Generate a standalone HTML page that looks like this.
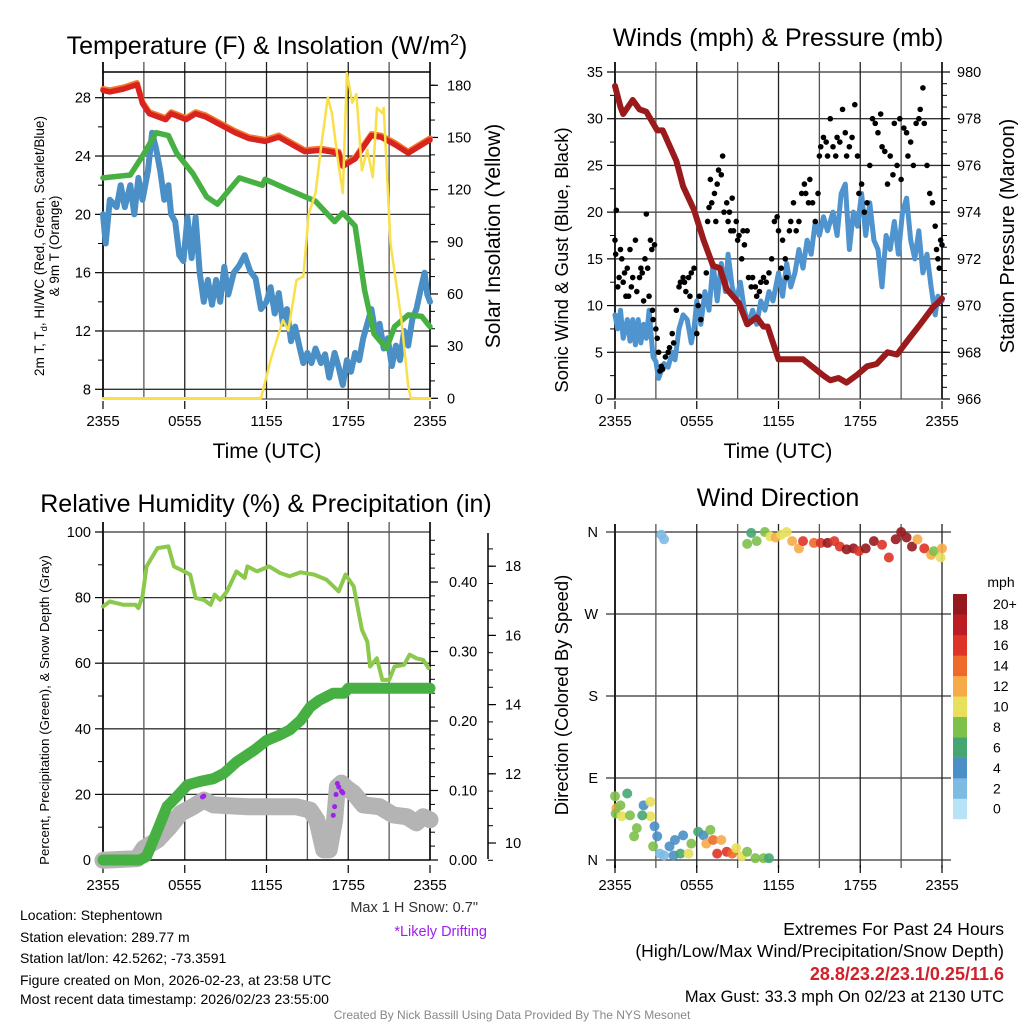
<!DOCTYPE html>
<html><head><meta charset="utf-8"><style>
html,body{margin:0;padding:0;background:#fff;}
svg{display:block;font-family:"Liberation Sans",Arial,sans-serif;}
</style></head><body>
<svg id="fig" width="1024" height="1024" viewBox="0 0 1024 1024">
<rect width="1024" height="1024" fill="#fff"/>
<g id="p1"></g>
<g id="p2"></g>
<g id="p3"></g>
<g id="p4"></g>

<text x="267" y="54" font-size="25" text-anchor="middle">Temperature (F) &amp; Insolation (W/m<tspan dy="-9" font-size="16">2</tspan><tspan dy="9">)</tspan></text>
<text x="778" y="46" font-size="25" text-anchor="middle">Winds (mph) &amp; Pressure (mb)</text>
<text x="266" y="512" font-size="25" text-anchor="middle">Relative Humidity (%) &amp; Precipitation (in)</text>
<text x="778" y="506" font-size="25" text-anchor="middle">Wind Direction</text>

<text x="267" y="458" font-size="21" text-anchor="middle">Time (UTC)</text>
<text x="778" y="458" font-size="21" text-anchor="middle">Time (UTC)</text>

<text transform="translate(44,246) rotate(-90)" font-size="13.5" text-anchor="middle">2m T, T<tspan font-size="9.5" dy="3">d</tspan><tspan dy="-3">, HI/WC (Red, Green, Scarlet/Blue)</tspan></text>
<text transform="translate(59,246) rotate(-90)" font-size="13.5" text-anchor="middle">&amp; 9m T (Orange)</text>
<text transform="translate(500,236) rotate(-90)" font-size="21" text-anchor="middle">Solar Insolation (Yellow)</text>
<text transform="translate(568,260) rotate(-90)" font-size="18.5" text-anchor="middle">Sonic Wind &amp; Gust (Blue, Black)</text>
<text transform="translate(1014,236) rotate(-90)" font-size="20" text-anchor="middle">Station Pressure (Maroon)</text>
<text transform="translate(49,710) rotate(-90)" font-size="13.3" text-anchor="middle">Percent, Precipitation (Green), &amp; Snow Depth (Gray)</text>
<text transform="translate(568,695) rotate(-90)" font-size="18.5" text-anchor="middle">Direction (Colored By Speed)</text>

<text x="1001" y="587" font-size="14" text-anchor="middle">mph</text>

<g font-size="14">
<text x="20" y="920">Location: Stephentown</text>
<text x="20" y="942">Station elevation: 289.77 m</text>
<text x="20" y="963">Station lat/lon: 42.5262; -73.3591</text>
<text x="20" y="985">Figure created on Mon, 2026-02-23, at 23:58 UTC</text>
<text x="20" y="1004">Most recent data timestamp: 2026/02/23 23:55:00</text>
</g>
<text x="478" y="912" font-size="14.5" text-anchor="end" fill="#333">Max 1 H Snow: 0.7"</text>
<text x="487" y="936" font-size="14.5" text-anchor="end" fill="#a020f0">*Likely Drifting</text>
<g text-anchor="end">
<text x="1004" y="935" font-size="17.5">Extremes For Past 24 Hours</text>
<text x="1004" y="957" font-size="17.5">(High/Low/Max Wind/Precipitation/Snow Depth)</text>
<text x="1004" y="980" font-size="18" fill="#d0202a" font-weight="bold">28.8/23.2/23.1/0.25/11.6</text>
<text x="1004" y="1002" font-size="16.5">Max Gust: 33.3 mph On 02/23 at 2130 UTC</text>
</g>
<text x="512" y="1019" font-size="12" text-anchor="middle" fill="#888">Created By Nick Bassill Using Data Provided By The NYS Mesonet</text>
</svg>
<script>
// ---------- data ----------
const timeTicks = ["2355","0555","1155","1755","2355"];
// Panel 1 (t = hours since 2355)
const tempT = [0,0.5,1.5,2.5,2.9,3.4,4.6,5.0,6.1,6.8,7.5,8.7,9.7,10.7,11.9,12.9,14.8,16.0,17.3,17.6,18.5,19.7,20.4,21.4,22.4,23.8,24];
const tempV = [28.5,28.4,28.6,28.9,27.6,26.9,26.5,26.9,26.5,26.9,26.7,26.1,25.6,25.2,25.0,25.3,24.3,24.4,24.2,23.3,23.8,25.4,25.3,24.8,24.2,25.0,25.1];
const dewT = [0,2.0,2.9,3.9,4.8,5.4,6.6,7.6,8.4,10.0,11.7,11.9,13.6,15.6,17.0,17.6,18.5,19.2,19.9,20.8,21.4,22.4,23.4,23.9,24];
const dewV = [22.5,22.7,24.0,25.6,25.4,24.2,22.8,21.2,20.7,22.5,22.0,22.4,21.7,20.9,19.5,20.1,19.2,14.8,11.8,10.8,12.3,13.1,13.0,12.4,12.3];
const wcT = [0,0.2,0.5,1,1.3,1.6,2,2.3,2.6,2.9,3.3,3.6,3.9,4.2,4.5,4.8,5,5.3,5.6,5.9,6.2,6.5,6.8,7.1,7.4,7.7,8,8.3,8.6,8.9,9.2,9.6,10,10.4,10.8,11.2,11.6,12,12.3,12.6,12.9,13.2,13.5,13.8,14.1,14.4,14.7,15,15.3,15.6,16,16.3,16.6,17,17.3,17.6,17.9,18.2,18.5,18.8,19.1,19.4,19.7,20,20.3,20.6,20.9,21.2,21.5,21.8,22.1,22.4,22.7,23,23.3,23.6,23.8,24];
const wcV = [20,18,21,20.5,22,20.5,22,20,22.5,21,23,25.6,24.5,23,21,22,20,19.5,17.2,16.8,19.8,17,19.8,16,14,15.5,13.8,15.5,14,16.4,14.5,16,16.5,17.2,16.1,15.6,13.5,14,15,13.2,14.6,12.5,13.5,11.3,12.3,11,9.8,10.5,9.8,10.8,9.8,10.4,8.8,10.5,9.5,8.3,10,9.2,10.5,10,11.5,12.5,13.5,11.8,12.5,10.8,11.5,9.6,11,10,12,11,12.8,13.5,14.8,16,14.5,14];
const solT = [0,11.6,12.3,13.2,13.6,14.2,14.7,15.1,15.6,16.0,16.5,16.8,17.2,17.6,17.9,18.3,18.6,19.0,19.4,19.8,20.1,20.5,20.6,21.1,21.9,22.4,22.6,24];
const solV = [0,0,22,45,39,68,70,106,118,144,173,164,139,118,187,170,175,131,143,127,167,164,167,89,45,7,0,0];
// Panel 2
const windT = [0,0.2,0.4,0.6,0.9,1.1,1.3,1.5,1.7,1.9,2.1,2.3,2.5,2.7,2.8,3.0,3.2,3.4,3.6,3.9,4.2,4.4,4.7,5.0,5.3,5.6,5.8,6.0,6.3,6.6,6.9,7.2,7.5,7.8,8.1,8.3,8.6,8.9,9.2,9.5,9.8,10.1,10.4,10.7,11,11.3,11.6,12,12.3,12.6,12.9,13.2,13.5,13.8,14.1,14.4,14.7,15,15.3,15.6,16,16.3,16.6,16.9,17.2,17.5,17.8,18.1,18.4,18.7,19,19.3,19.6,19.9,20.2,20.5,20.8,21.1,21.4,21.7,22,22.3,22.6,22.9,23.2,23.5,23.7,24];
const windV = [9,7.5,9.5,6.5,8.5,6.2,8.5,5.8,8.5,6,8,6.5,9.5,6,4.5,4,2.2,3,3.8,3.4,5,4.2,7.5,9,8.5,6,7.5,10.5,8,11.5,9.5,14.5,10.5,14.5,11.5,15.5,12,10.5,12.5,9.5,8,9.5,8,10.5,9.5,11.5,10.5,13.5,11,14.5,12,13.5,16,14,17,15.5,19,17.5,19.5,18,20,17.5,22,23,16,20,18.5,22,17.5,21,17,16,12,17.5,16,19,15.5,20,21.5,17,15,18,13.5,15.5,12,9,11,10.5];
const gustT = [0,0.05,0.1,0.2,0.3,0.4,0.5,0.6,0.7,0.8,0.9,1,1.1,1.2,1.3,1.5,1.6,1.8,1.9,2,2.1,2.2,2.3,2.4,2.5,2.6,2.7,2.75,2.8,2.9,3,3.1,3.2,3.3,3.4,3.5,3.7,3.9,4,4.2,4.3,4.5,4.7,4.8,5,5.1,5.2,5.4,5.5,5.6,5.8,6,6.1,6.2,6.3,6.5,6.7,6.8,6.9,7,7.1,7.3,7.4,7.5,7.6,7.8,7.9,8,8.2,8.3,8.4,8.5,8.6,8.7,8.9,9,9.1,9.3,9.4,9.5,9.7,9.8,10,10.1,10.3,10.4,10.6,10.7,10.9,11.1,11.3,11.5,11.7,11.9,12,12.2,12.3,12.5,12.6,12.8,12.9,13.1,13.3,13.5,13.7,13.9,14,14.2,14.3,14.5,14.7,14.9,15,15.1,15.3,15.5,15.6,15.8,16,16.2,16.3,16.5,16.7,16.9,17,17.2,17.4,17.6,17.8,17.9,18.1,18.3,18.5,18.7,18.9,19.1,19.3,19.5,19.6,19.8,20,20.2,20.4,20.5,20.7,20.9,21,21.2,21.4,21.5,21.7,21.9,22.1,22.3,22.4,22.6,22.7,22.9,23.1,23.3,23.5,23.6,23.7,23.8,23.9,24];
const gustV = [17,15.5,20.2,12,13,16,15,12.5,13.5,11,14,11,16,12,13,17,11.5,13,14,13.5,10.5,15,19.8,14,11,17,16,9.5,8.5,16.5,7.5,6.5,5,3,3.5,3.2,4.5,5,5.5,7,6,9.5,12,12.5,13,12.5,11.5,13,11,13.5,14,7,10,11,8.5,17,13.5,19,20.5,23.5,21,22,19,23,24.5,24,26,20,21,19,20,18,21.5,18,19,17,17.5,15,18,16.5,18,13,12,13,12,11,11.5,12.5,13,12.5,13.5,15,19,19.5,18,14,17,15,13,18,19,21,18,19,22,23,22,21,23.5,21,19,22,26,27,28,27.5,26,30,27,26,28,27.5,31,28.5,26,27,28,31.5,26,22,23,20,21,25,30,29.5,28.5,30.5,27,26.5,23,26,24,29.5,25,30,23.5,29,28.5,26,27.5,25,29.5,30,31,33.3,29.5,25,22,21,18.5,16,15,14,17,16.5];
const presT = [0,0.4,0.6,1.3,1.8,2.3,3.1,3.5,4.5,5.0,5.8,6.5,7.2,7.7,8.2,9.1,9.7,10.4,10.9,11.2,12.0,12.8,13.8,15.3,15.8,16.4,17.0,17.7,18.5,19.2,20.0,20.7,21.6,22.4,23.3,24];
const presV = [979.4,978.5,978.2,978.8,978.4,978.3,977.5,977.5,976.2,975.1,974.1,972.8,971.7,971.6,970.7,970.1,969.2,969.5,969.1,969.1,967.7,967.7,967.7,967.0,966.8,966.9,966.7,967.0,967.4,967.5,968.0,967.9,968.6,969.2,969.9,970.3];
// Panel 3
const rhT = [0,0.5,1.5,2.4,2.6,2.9,3.2,4.0,4.8,5.2,5.7,6.4,6.8,7.4,7.9,8.2,8.6,9.1,9.8,10.4,10.6,11.3,12.2,13.0,13.7,14.5,15.5,16.4,17.3,17.8,18.4,19.0,19.4,19.6,20.1,20.5,21.0,21.4,22.1,22.5,23.0,23.5,23.9];
const rhV = [77.3,78.8,77.8,77.8,76.8,80.4,89.5,95.1,95.6,89.5,88.5,87,79.9,79.3,77.8,80.9,79.3,81.9,88,86,89.5,88,89.5,87.5,86.5,87.7,87,85.5,81.9,87,83.4,70.2,66.6,59,61.5,54.9,54.9,59,59.5,62.6,61.5,61,58.5];
const prcT = [0,2.7,3.2,4.0,4.7,5.4,6.2,7.1,8.1,8.9,9.8,11.1,12.0,13.0,13.7,14.5,15.2,15.9,16.9,17.7,18.0,24];
const prcV = [0,0,0.005,0.043,0.077,0.091,0.108,0.113,0.117,0.125,0.141,0.158,0.172,0.18,0.187,0.201,0.22,0.23,0.24,0.24,0.247,0.247];
const snowT = [0,2.5,3.0,4.0,4.9,5.7,6.6,7.4,8.1,10.6,14.2,15.2,15.7,16.2,16.6,17.0,17.2,17.5,17.9,18.4,19.1,20.3,21.3,22.3,23.0,23.5,24];
const snowV = [9.5,9.55,9.85,10.09,10.47,10.86,11.05,11.24,11.1,11.05,11.05,10.95,10.66,9.8,9.8,10.66,11.63,11.73,11.58,11.44,11.1,11.05,10.81,10.76,10.58,10.76,10.67];
const driftT = [7.3,7.4,16.9,17.0,17.1,17.2,17.3,17.5,17.6];
const driftV = [11.33,11.36,10.8,11.05,11.4,11.72,11.62,11.5,11.45];
// Panel 4
const dirT = [0,0.1,0.05,0.9,0.4,0.5,1.1,1.4,1.6,2.1,2.6,2.6,2.0,2.9,3.1,2.8,3.3,3.6,4.0,4.4,4.3,4.8,5.0,5.4,5.6,6.1,6.5,7.0,6.7,7.2,7.5,7.8,8.2,8.6,8.9,9.3,9.7,10.3,10.9,11.3,3.4,3.6,10.0,9.7,10.4,11.0,11.4,11.8,12.2,12.6,13.0,13.5,13.8,14.6,15.1,15.6,16.1,16.5,17.0,17.5,17.9,18.4,19.0,19.6,20.1,20.6,21.0,21.4,21.8,22.2,22.7,23.2,23.4,23.9,24];
const dirV = [70,57,51,73,60,48,49,26,35,60,64,48,49,37,26,15,7,5,15,22,5,7,27,7,18,31,27,33,18,22,7,22,9,7,13,4,9,2,2,2,357,352,359,347,350,360,355,354,357,360,350,342,350,348,348,348,350,344,341,342,339,342,350,346,332,352,360,354,344,352,342,335,339,332,342];
const dirSpd = [8,12,8,6,8,10,8,8,8,4,10,10,6,4,4,8,2,2,4,4,4,6,4,10,8,6,4,8,12,14,16,12,16,14,10,10,8,8,8,6,2,2,6,8,8,8,10,12,10,10,12,12,16,14,16,20,16,16,20,20,16,20,20,16,16,20,20,20,20,12,16,12,8,10,12];
const cbLabels = ["0","2","4","6","8","10","12","14","16","18","20+"];
const cbColors = ["#b8e2f5","#7dbbe4","#4a8fc6","#46a672","#7dc04b","#e8e05a","#f6ab48","#ee6a2b","#de3427","#bc1d24","#961a1d"];

// ---------- helpers ----------
const NS = "http://www.w3.org/2000/svg";
function mk(parent, tag, attrs){ const e=document.createElementNS(NS,tag); for(const k in attrs) e.setAttribute(k,attrs[k]); parent.appendChild(e); return e; }
const HPX = 327/24;
const xL = t => 103 + t*HPX;
const xR = t => 615 + t*HPX;
const y1L = v => 97.7 + (28-v)*14.58;
const y1R = w => 398.3 - w*1.739;
const y2L = v => 399 - v*9.343;
const y2R = p => 399 - (p-966)*(327/14);
const y3L = v => 860 - v*3.28;
const y3P = p => 860 - p*695;
const y3S = s => 843 - (s-10)*34.6;
const y4 = d => 860 - d*0.9111;

function line(g,xs,ys,xf,yf,color,w,name){
  const pts = xs.map((t,i)=>xf(t).toFixed(1)+","+yf(ys[i]).toFixed(1)).join(" ");
  const el = mk(g,"polyline",{points:pts,fill:"none",stroke:color,"stroke-width":w,"stroke-linejoin":"round","stroke-linecap":"round"});
  
  
  return el;
}
function gridV(g,x0,ytop,ybot){
  for(let i=0;i<=8;i++){
    const x=x0+i*3*HPX;
    const el=mk(g,"line",{x1:x,y1:ytop,x2:x,y2:ybot,stroke:i%2?"#555":"#222","stroke-width":i===0?2:1.3});
    
    
  }
}
function gridH(g,vals,yf,x1,x2){
  vals.forEach(v=>{
    const el=mk(g,"line",{x1:x1,y1:yf(v),x2:x2,y2:yf(v),stroke:"#333","stroke-width":1.3});
    
    
  });
}
function ticksLeft(g,x,vals,minor,yf,fmt){
  vals.forEach(v=>{
    mk(g,"line",{x1:x-8,y1:yf(v),x2:x,y2:yf(v),stroke:"#000","stroke-width":1.2});
    const tx=mk(g,"text",{x:x-12,y:yf(v)+5,"font-size":14.5,"text-anchor":"end"}); tx.textContent=fmt(v);
    
    
  });
  minor.forEach(v=>mk(g,"line",{x1:x-5,y1:yf(v),x2:x,y2:yf(v),stroke:"#000","stroke-width":1}));
}
function ticksRight(g,x,vals,minor,yf,fmt,lx){
  vals.forEach(v=>{
    mk(g,"line",{x1:x,y1:yf(v),x2:x+8,y2:yf(v),stroke:"#000","stroke-width":1.2});
    const tx=mk(g,"text",{x:lx||x+14,y:yf(v)+5,"font-size":14.5}); tx.textContent=fmt(v);
    
    
  });
  minor.forEach(v=>mk(g,"line",{x1:x,y1:yf(v),x2:x+5,y2:yf(v),stroke:"#000","stroke-width":1}));
}
function xLabels(g,x0,y){
  timeTicks.forEach((s,i)=>{
    const x=x0+i*6*HPX;
    mk(g,"line",{x1:x,y1:y-25,x2:x,y2:y-17,stroke:"#000","stroke-width":1.2});
    const tx=mk(g,"text",{x:x,y:y,"font-size":15,"text-anchor":"middle"}); tx.textContent=s;
    
    
  });
}
function range(a,b,s){const r=[];for(let v=a;v<=b+1e-9;v+=s)r.push(+v.toFixed(4));return r;}

// ---------- Panel 1 ----------
(function(){
  const g=document.getElementById("p1");
  gridH(g,[8,12,16,20,24,28],y1L,103,430);
  gridV(g,103,62,399);
  mk(g,"line",{x1:103,y1:72,x2:430,y2:72,stroke:"#000","stroke-width":1.5});
  mk(g,"line",{x1:430,y1:62,x2:430,y2:399,stroke:"#000","stroke-width":1.5});
  mk(g,"line",{x1:103,y1:399,x2:430,y2:399,stroke:"#555","stroke-width":1.2});
  ticksLeft(g,103,[8,12,16,20,24,28],[10,14,18,22,26],y1L,v=>v);
  ticksRight(g,430,[0,30,60,90,120,150,180],range(10,180,10),y1R,v=>v,447);
  xLabels(g,103,426);
  line(g,wcT,wcV,xL,y1L,"#4a8fc6",6,"heat-index-windchill-line");
  line(g,dewT,dewV,xL,y1L,"#46b043",5.5,"dewpoint-line");
  line(g,tempT,tempV.map(v=>v+0.12),xL,y1L,"#f37a2a",5.5,"temperature-9m-line");
  line(g,tempT,tempV,xL,y1L,"#d8231f",5.5,"temperature-line");
  line(g,solT,solV,xL,y1R,"#f9e04b",2.5,"insolation-line");
})();

// ---------- Panel 2 ----------
(function(){
  const g=document.getElementById("p2");
  gridH(g,[5,10,15,20,25,30,35],y2L,615,942);
  gridV(g,615,62,399);
  mk(g,"line",{x1:942,y1:62,x2:942,y2:399,stroke:"#000","stroke-width":1.5});
  mk(g,"line",{x1:615,y1:399,x2:942,y2:399,stroke:"#555","stroke-width":1.2});
  ticksLeft(g,615,[0,5,10,15,20,25,30,35],range(2.5,32.5,5),y2L,v=>v);
  ticksRight(g,942,[966,968,970,972,974,976,978,980],range(966.5,979.5,0.5),y2R,v=>v,957);
  xLabels(g,615,426);
  line(g,windT,windV,xR,y2L,"#4f93cf",5,"sonic-wind-line");
  gustT.forEach((t,i)=>{
    const c=mk(g,"circle",{cx:xR(t),cy:y2L(gustV[i]),r:2.8,fill:"#000"});
    
    
  });
  line(g,presT,presV,xR,y2R,"#9b1a1c",6,"pressure-line");
})();

// ---------- Panel 3 ----------
(function(){
  const g=document.getElementById("p3");
  gridH(g,[20,40,60,80,100],y3L,103,430);
  gridV(g,103,522,860);
  mk(g,"line",{x1:430,y1:522,x2:430,y2:860,stroke:"#000","stroke-width":1.5});
  mk(g,"line",{x1:103,y1:860,x2:430,y2:860,stroke:"#000","stroke-width":1.5});
  ticksLeft(g,103,[0,20,40,60,80,100],[10,30,50,70,90],y3L,v=>v);
  ticksRight(g,430,[0,0.1,0.2,0.3,0.4],range(0.02,0.46,0.02),y3P,v=>v.toFixed(2),449);
  mk(g,"line",{x1:488,y1:533,x2:488,y2:859,stroke:"#000","stroke-width":1.5});
  ticksRight(g,488,[10,12,14,16,18],range(9.5,18.5,0.5),y3S,v=>v,505);
  xLabels(g,103,890);
  line(g,snowT,snowV,xL,y3S,"#b4b4b4",17,"snow-depth-line");
  line(g,prcT,prcV,xL,y3P,"#46b043",11,"precipitation-line");
  line(g,rhT,rhV,xL,y3L,"#8cc84b",4,"relative-humidity-line");
  driftT.forEach((t,i)=>{
    const c=mk(g,"circle",{cx:xL(t),cy:y3S(driftV[i]),r:2.5,fill:"#a020f0"});
    
    
  });
})();

// ---------- Panel 4 ----------
(function(){
  const g=document.getElementById("p4");
  gridH(g,[0,90,180,270,360],y4,606,951);
  gridV(g,615,524,868);
  ["N","E","S","W","N"].forEach((s,i)=>{
    const tx=mk(g,"text",{x:598,y:y4(i*90)+5,"font-size":14.5,"text-anchor":"end"}); tx.textContent=s;
    
    
  });
  xLabels(g,615,890);
  dirT.forEach((t,i)=>{
    const idx=Math.min(10,Math.round(dirSpd[i]/2));
    const c=mk(g,"circle",{cx:xR(t),cy:y4(dirV[i]),r:5,fill:cbColors[idx],"fill-opacity":0.9});
    
    
  });
  const h=20.45, top=594;
  cbColors.forEach((c,i)=>{
    const y=top+(10-i)*h;
    const r=mk(g,"rect",{x:953,y:y,width:14,height:h+0.3,fill:c});
    
    
    const tx=mk(g,"text",{x:993,y:y+h/2+5,"font-size":14}); tx.textContent=cbLabels[i];
    
    
  });
})();
</script>
</body></html>
